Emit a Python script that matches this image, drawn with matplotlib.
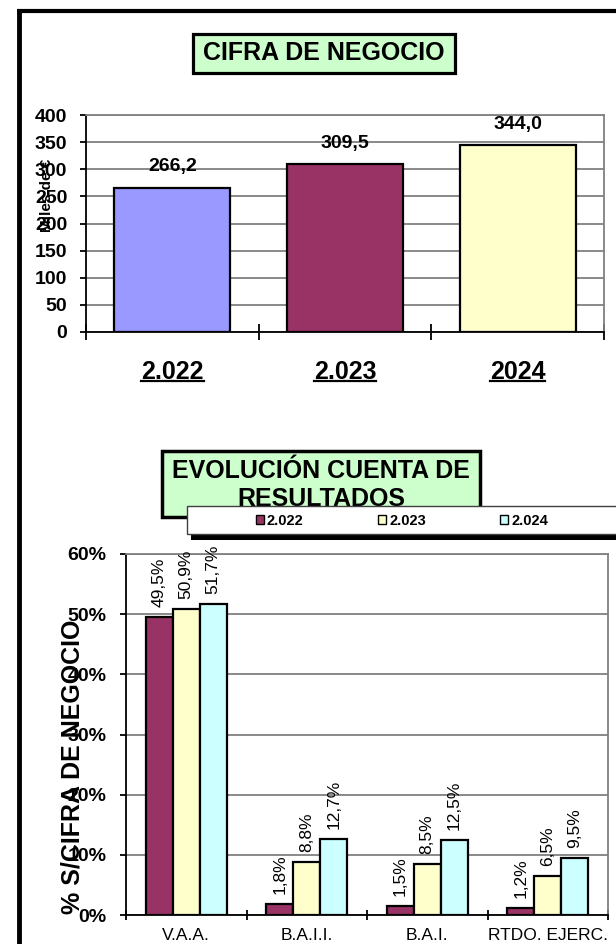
import numpy as np
from matplotlib import pyplot as plt
import matplotlib.patches as patches
from matplotlib.lines import Line2D

plt.rcParams['font.family'] = ['Liberation Sans', 'DejaVu Sans']

# Top chart: turnover (thousands of euro)
years_top = ['2.022', '2.023', '2024']
turnover = [266.2, 309.5, 344.0]
turnover_colors = ['#9999FF', '#993366', '#FFFFCC']

# Bottom chart: % over turnover
concepts = ['V.A.A.', 'B.A.I.I.', 'B.A.I.', 'RTDO. EJERC.']
series_names = ['2.022', '2.023', '2.024']
pct_2022 = [49.5, 1.8, 1.5, 1.2]
pct_2023 = [50.9, 8.8, 8.5, 6.5]
pct_2024 = [51.7, 12.7, 12.5, 9.5]
series_colors = ['#993366', '#FFFFCC', '#CCFFFF']

W, H = 616, 944
fig = plt.figure(figsize=(W / 100, H / 100), dpi=100)


def fx(px):
    return px / W


def fy(py):
    return 1 - py / H


def style_axes(ax):
    ax.set_axisbelow(True)
    ax.grid(axis='y', color='#808080', linewidth=1.3)
    for side in ['top', 'right']:
        ax.spines[side].set_color('#808080')
        ax.spines[side].set_linewidth(1.3)
    for side in ['left', 'bottom']:
        ax.spines[side].set_color('black')
        ax.spines[side].set_linewidth(1.3)


# outer frame (left and top lines only)
fig.add_artist(Line2D([fx(18.5), fx(18.5)], [fy(9), 0], color='black', lw=3.5,
                      transform=fig.transFigure, solid_capstyle='butt'))
fig.add_artist(Line2D([fx(16.5), 1], [fy(11), fy(11)], color='black', lw=3,
                      transform=fig.transFigure, solid_capstyle='butt'))

# ---------- top chart ----------
ax1 = fig.add_axes([fx(86), fy(332), fx(604) - fx(86), fy(115) - fy(332)])
style_axes(ax1)
x1 = np.arange(len(years_top))
bars = ax1.bar(x1, turnover, width=0.67, color=turnover_colors,
               edgecolor='black', linewidth=1.6)
for b, v in zip(bars, turnover):
    ax1.annotate(f'{v:.1f}'.replace('.', ','), (b.get_x() + b.get_width() / 2, v),
                 xytext=(0, 15), textcoords='offset points', ha='center', va='center',
                 fontsize=14, fontweight='bold')
ax1.set_xlim(-0.5, 2.5)
ax1.set_ylim(0, 400)
ax1.set_yticks(np.arange(0, 401, 50))
ax1.tick_params(axis='y', labelsize=14, length=4, width=1.3, pad=9.5)
for lab in ax1.get_yticklabels():
    lab.set_fontweight('bold')
ax1.set_xticks(x1)
ax1.set_xticklabels(years_top, fontsize=18, fontweight='bold')
ax1.tick_params(axis='x', which='major', length=0, pad=20)
ax1.set_xticks(np.arange(-0.5, 3, 1), minor=True)
ax1.tick_params(axis='x', which='minor', direction='inout', length=11, width=1.3)
fig.text(fx(47), fy(195), 'Miles de €', rotation=90, ha='center', va='center',
         fontsize=11, fontweight='bold')

# title box 1
fig.add_artist(patches.Rectangle((fx(193), fy(73)), fx(455) - fx(193), fy(34) - fy(73),
                                 transform=fig.transFigure, facecolor='#CCFFCC',
                                 edgecolor='black', linewidth=2.3, zorder=2))
fig.text(fx(324), fy(53), 'CIFRA DE NEGOCIO', ha='center', va='center',
         fontsize=18, fontweight='bold', zorder=3)

# ---------- bottom chart ----------
ax2 = fig.add_axes([fx(126), fy(915), fx(608) - fx(126), fy(554) - fy(915)])
style_axes(ax2)
x2 = np.arange(len(concepts))
bw = 0.67 / 3
all_series = [pct_2022, pct_2023, pct_2024]
bar_groups = []
for i, (vals, col, name) in enumerate(zip(all_series, series_colors, series_names)):
    bg = ax2.bar(x2 + (i - 1) * bw, vals, width=bw, color=col, edgecolor='black',
                 linewidth=1.6, label=name)
    bar_groups.append(bg)
    for b, v in zip(bg, vals):
        ax2.annotate(f'{v:.1f}%'.replace('.', ','), (b.get_x() + b.get_width() / 2, v),
                     xytext=(0, 7), textcoords='offset points', ha='center',
                     va='bottom', rotation=90, fontsize=12.5)
ax2.set_xlim(-0.5, 3.5)
ax2.set_ylim(0, 60)
ax2.set_yticks(np.arange(0, 61, 10))
ax2.set_yticklabels([f'{t}%' for t in range(0, 61, 10)], fontsize=14, fontweight='bold')
ax2.tick_params(axis='y', length=4, width=1.3, pad=10)
ax2.set_xticks(x2)
ax2.set_xticklabels(concepts, fontsize=12.5)
ax2.tick_params(axis='x', which='major', length=0, pad=9)
ax2.set_xticks(np.arange(-0.5, 4, 1), minor=True)
ax2.tick_params(axis='x', which='minor', direction='inout', length=7, width=1.3)
fig.text(fx(73), fy(767), '% S/CIFRA DE NEGOCIO', rotation=90, ha='center',
         va='center', fontsize=18, fontweight='bold')

# title box 2, partly hidden by the legend box
fig.add_artist(patches.Rectangle((fx(162), fy(517)), fx(480) - fx(162), fy(451) - fy(517),
                                 transform=fig.transFigure, facecolor='#CCFFCC',
                                 edgecolor='black', linewidth=2.5, zorder=2))
fig.text(fx(321), fy(485), 'EVOLUCIÓN CUENTA DE\nRESULTADOS', ha='center', va='center',
         fontsize=18, fontweight='bold', linespacing=1.2, zorder=2.5)

# legend box with shadow
fig.add_artist(patches.Rectangle((fx(191), fy(540)), 1 - fx(191) + 0.05, fy(520) - fy(540),
                                 transform=fig.transFigure, facecolor='black',
                                 edgecolor='none', zorder=3))
fig.add_artist(patches.Rectangle((fx(187), fy(534)), 1 - fx(187) + 0.05, fy(506) - fy(534),
                                 transform=fig.transFigure, facecolor='white',
                                 edgecolor='#404040', linewidth=1, zorder=3.5))
leg = fig.legend(handles=bar_groups, labels=series_names, loc='center left',
                 bbox_to_anchor=(fx(256), fy(521)), ncol=3, frameon=False,
                 prop={'weight': 'bold', 'size': 10.5}, handlelength=0.55,
                 handleheight=0.55, handletextpad=0.2, columnspacing=5.1,
                 borderaxespad=0, borderpad=0)
leg.set_zorder(5)
for h in leg.legend_handles:
    h.set_linewidth(1)

# underline the year labels of the top chart
fig.canvas.draw()
renderer = fig.canvas.get_renderer()
for lab in ax1.get_xticklabels():
    bb = lab.get_window_extent(renderer)
    yl = (bb.y0 + 2.5) / H
    fig.add_artist(Line2D([bb.x0 / W, bb.x1 / W], [yl, yl], color='black', lw=1.6,
                          transform=fig.transFigure))

fig.savefig('out.png', dpi=100)
